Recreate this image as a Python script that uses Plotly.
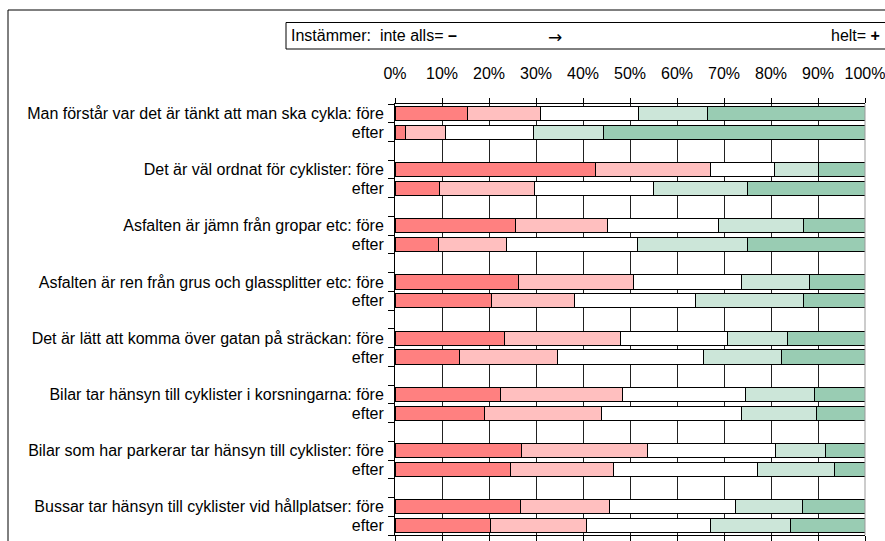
import plotly.graph_objects as go

questions = [
    "Man förstår var det är tänkt att man ska cykla",
    "Det är väl ordnat för cyklister",
    "Asfalten är jämn från gropar etc",
    "Asfalten är ren från grus och glassplitter etc",
    "Det är lätt att komma över gatan på sträckan",
    "Bilar tar hänsyn till cyklister i korsningarna",
    "Bilar som har parkerar tar hänsyn till cyklister",
    "Bussar tar hänsyn till cyklister vid hållplatser",
]
periods = ["före", "efter"]

# shares (%) per answer level 1 (inte alls) .. 5 (helt), for före / efter of each question
level1 = [15.4, 2.2, 42.7, 9.4, 25.7, 9.2, 26.3, 20.6, 23.4, 13.8, 22.5, 19.1, 27.0, 24.6, 26.8, 20.4]
level2 = [15.6, 8.6, 24.4, 20.2, 19.5, 14.6, 24.5, 17.6, 24.6, 20.7, 26.0, 24.8, 26.8, 21.8, 18.8, 20.4]
level3 = [20.9, 18.6, 13.6, 25.3, 23.7, 27.9, 22.9, 25.8, 22.8, 31.2, 26.0, 29.8, 27.2, 30.8, 26.9, 26.4]
level4 = [14.5, 14.9, 9.5, 20.0, 18.0, 23.2, 14.5, 22.9, 12.7, 16.6, 14.7, 16.0, 10.6, 16.3, 14.1, 16.9]
level5 = [33.6, 55.7, 9.8, 25.1, 13.1, 25.1, 11.8, 13.1, 16.5, 17.7, 10.8, 10.3, 8.4, 6.5, 13.4, 15.9]

x_ticks = [0, 10, 20, 30, 40, 50, 60, 70, 80, 90, 100]
x_ticktext = [f"{v}%" for v in x_ticks]

colors = ["#FF8080", "#FFBFBF", "#FFFFFF", "#CCE6D9", "#99CCB3"]
series = [level1, level2, level3, level4, level5]

# row positions: each question takes 3 slots (före, efter, gap)
ypos = []
ylabels = []
for i, q in enumerate(questions):
    ypos += [3 * i, 3 * i + 1]
    ylabels += [f"{q}: {periods[0]}", periods[1]]

fig = go.Figure()
for vals, col in zip(series, colors):
    fig.add_trace(go.Bar(
        x=vals, y=ypos, orientation="h",
        marker=dict(color=col, line=dict(color="#000000", width=1)),
        showlegend=False, hoverinfo="skip",
    ))

FONT = "Liberation Sans, Arial, sans-serif"
W, H = 885, 541
L, T = 395, 104
R = W - 865
B = H - 535
pw = W - L - R
ph = H - T - B

def px_x(px):
    return (px - L) / pw

def px_y(py):
    return (H - B - py) / ph

fig.update_layout(
    width=W, height=H,
    margin=dict(l=L, r=R, t=T, b=B, pad=0, autoexpand=False),
    barmode="stack", bargap=0.25,
    paper_bgcolor="white", plot_bgcolor="white",
    font=dict(family=FONT, size=16, color="#000000"),
    xaxis=dict(
        side="top", range=[0, 100], tickmode="array", tickvals=x_ticks, ticktext=x_ticktext,
        showgrid=True, gridcolor="#222222", gridwidth=1,
        showline=True, linecolor="#000000", linewidth=1, mirror="ticks",
        ticks="outside", ticklen=5, tickcolor="#000000", ticklabelstandoff=13,
        ticklabeloverflow="allow", automargin=False,
        zeroline=False, fixedrange=True,
    ),
    yaxis=dict(
        range=[22.5, -0.5], tickmode="array", tickvals=ypos, ticktext=ylabels,
        ticks="", showgrid=False, zeroline=False,
        showline=True, linecolor="#000000", linewidth=1, mirror=False,
        ticklabelstandoff=7, automargin=False,
        minor=dict(tickmode="linear", tick0=-0.5, dtick=1, ticks="outside", ticklen=6,
                   tickcolor="#000000", showgrid=False),
        fixedrange=True,
    ),
    shapes=[
        # outer frame
        dict(type="rect", xref="paper", yref="paper", x0=px_x(8), x1=px_x(900),
             y0=px_y(560), y1=px_y(10), line=dict(color="#000000", width=1), layer="below"),
        # legend box
        dict(type="rect", xref="paper", yref="paper", x0=px_x(286), x1=px_x(900),
             y0=px_y(49), y1=px_y(22.5), line=dict(color="#000000", width=1)),
        # right border of plot
        dict(type="line", xref="paper", yref="paper", x0=1, x1=1, y0=0, y1=1,
             line=dict(color="#999999", width=1)),
    ],
    annotations=[
        dict(text="Instämmer:  inte alls= <b>–</b>", xref="paper", yref="paper",
             x=px_x(289), y=px_y(36), xanchor="left", yanchor="middle", showarrow=False,
             font=dict(family=FONT, size=16)),
        dict(text="→", xref="paper", yref="paper",
             x=px_x(555), y=px_y(37), xanchor="center", yanchor="middle", showarrow=False,
             font=dict(family="DejaVu Sans", size=17)),
        dict(text="helt= <b>+</b>", xref="paper", yref="paper",
             x=px_x(882), y=px_y(36), xanchor="right", yanchor="middle", showarrow=False,
             font=dict(family=FONT, size=16)),
    ],
)

fig.write_html(
    "out.html",
    config={"displayModeBar": False},
    post_script="document.body.style.margin='0';document.body.style.overflow='hidden';",
)
